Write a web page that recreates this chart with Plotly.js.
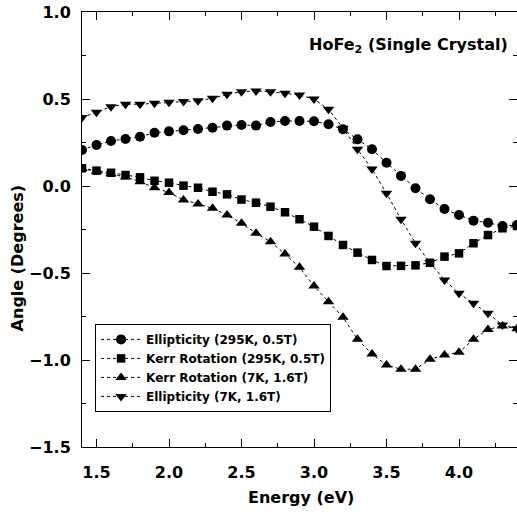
<!DOCTYPE html>
<html>
<head>
<meta charset="utf-8">
<script src="https://cdn.plot.ly/plotly-3.0.1.min.js"></script>
<style>html,body{margin:0;padding:0;background:#fff;}#chart{width:517px;height:516px;}</style>
</head>
<body>
<div id="chart"></div>
<script>
const energy = [1.4,1.5,1.6,1.7,1.8,1.9,2.0,2.1,2.2,2.3,2.4,2.5,2.6,2.7,2.8,2.9,3.0,3.1,3.2,3.3,3.4,3.5,3.6,3.7,3.8,3.9,4.0,4.1,4.2,4.3,4.4];
const ellip295 = [0.207,0.236,0.259,0.270,0.283,0.306,0.314,0.320,0.328,0.335,0.347,0.351,0.347,0.368,0.374,0.374,0.372,0.355,0.326,0.268,0.211,0.134,0.058,-0.013,-0.076,-0.132,-0.167,-0.199,-0.211,-0.230,-0.224];
const kerr295 = [0.102,0.088,0.076,0.063,0.050,0.030,0.019,0.002,-0.010,-0.033,-0.048,-0.078,-0.096,-0.119,-0.151,-0.191,-0.234,-0.287,-0.339,-0.383,-0.425,-0.460,-0.459,-0.456,-0.441,-0.406,-0.387,-0.329,-0.282,-0.243,-0.230];
const kerr7 = [0.100,0.085,0.070,0.052,0.025,-0.010,-0.038,-0.080,-0.103,-0.128,-0.167,-0.214,-0.272,-0.320,-0.391,-0.467,-0.575,-0.665,-0.755,-0.881,-0.966,-1.029,-1.053,-1.053,-0.996,-0.971,-0.956,-0.881,-0.824,-0.805,-0.820];
const ellip7 = [0.393,0.424,0.456,0.470,0.470,0.475,0.481,0.485,0.490,0.504,0.527,0.542,0.546,0.542,0.533,0.523,0.500,0.441,0.332,0.211,0.098,-0.042,-0.191,-0.329,-0.440,-0.540,-0.617,-0.674,-0.732,-0.799,-0.820];
const names = ['Ellipticity (295K, 0.5T)','Kerr Rotation (295K, 0.5T)','Kerr Rotation (7K, 1.6T)','Ellipticity (7K, 1.6T)'];
const symbols = ['circle','square','triangle-up','triangle-down'];
const sizes = [10,8.5,10,10];
const series = [ellip295, kerr295, kerr7, ellip7];

const traces = series.map((ys,i)=>({
  x: energy, y: ys, name: names[i], type:'scatter', mode:'lines+markers',
  line:{color:'#000', width:1, dash:'dot'},
  marker:{symbol:symbols[i], size:sizes[i], color:'#000'}
}));

const fontFam = 'DejaVu Sans, Liberation Sans, Arial, sans-serif';
const layout = {
  width:517, height:516,
  margin:{l:82, r:0, t:12, b:69},
  paper_bgcolor:'#fff', plot_bgcolor:'#fff',
  font:{family:fontFam, color:'#000'},
  showlegend:true,
  legend:{x:0.03, y:0.283, xanchor:'left', yanchor:'top', bgcolor:'#fff', bordercolor:'#000', borderwidth:1,
    itemwidth:40,
    font:{family:fontFam, size:12, color:'#000', weight:'bold'}, tracegroupgap:0},
  xaxis:{range:[1.4,4.4], showgrid:false, zeroline:false, showline:true, linecolor:'#000', linewidth:1, mirror:'ticks',
    ticks:'inside', ticklen:8, tickcolor:'#000', dtick:0.5, tick0:1.5, tickformat:'.1f',
    minor:{dtick:0.25, tick0:1.5, ticklen:4, ticks:'inside', tickcolor:'#000', showgrid:false},
    ticklabelstandoff:11,
    tickfont:{family:fontFam, size:16, weight:'bold'}},
  yaxis:{range:[-1.5,1.0], showgrid:false, zeroline:false, showline:true, linecolor:'#000', linewidth:1, mirror:'ticks',
    ticks:'inside', ticklen:8, tickcolor:'#000', dtick:0.5, tick0:0, tickformat:'.1f',
    minor:{dtick:0.25, ticklen:4, ticks:'inside', tickcolor:'#000', showgrid:false},
    ticklabelstandoff:7,
    tickfont:{family:fontFam, size:16, weight:'bold'}},
  annotations:[
    {text:'<b>HoFe<sub>2</sub> (Single Crystal)</b>', xref:'paper', yref:'paper', x:0.984, y:0.924,
      xanchor:'right', yanchor:'middle', showarrow:false, font:{family:fontFam, size:16, color:'#000'}},
    {text:'<b>Angle (Degrees)</b>', xref:'paper', yref:'paper', x:-0.149, y:0.434, textangle:-90,
      xanchor:'center', yanchor:'middle', showarrow:false, font:{family:fontFam, size:16, color:'#000'}},
    {text:'<b>Energy (eV)</b>', xref:'paper', yref:'paper', x:0.503, y:-0.115,
      xanchor:'center', yanchor:'middle', showarrow:false, font:{family:fontFam, size:16, color:'#000'}}
  ]
};
Plotly.newPlot('chart', traces, layout, {displayModeBar:false, staticPlot:true});
</script>
</body>
</html>
